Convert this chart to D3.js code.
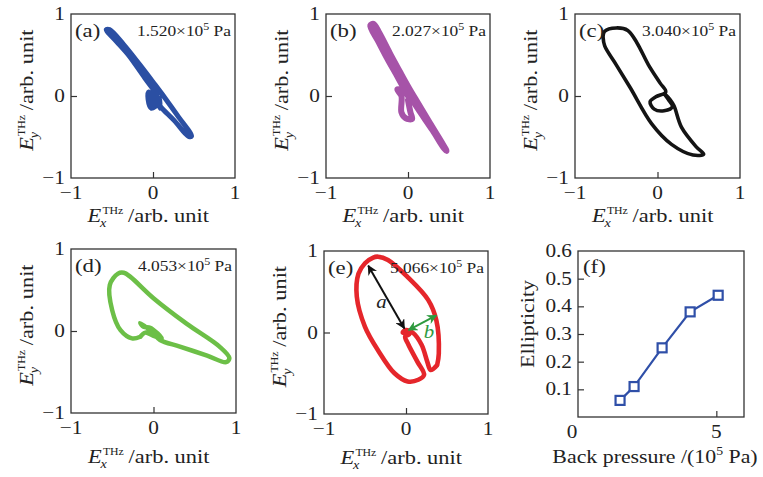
<!DOCTYPE html>
<html><head><meta charset="utf-8">
<script src="https://cdn.jsdelivr.net/npm/d3@7"></script>
<style>
html,body{margin:0;padding:0;background:#fff;}
svg{display:block;}
text{font-family:"Liberation Serif","Times New Roman",serif;fill:#222;}
</style></head>
<body>
<svg id="chart" width="763" height="477"></svg>
<script>
// ---------------- data ----------------
const panelLabels = ["(a)", "(b)", "(c)", "(d)", "(e)", "(f)"];
const pressureText = ["1.520", "2.027", "3.040", "4.053", "5.066"];
const fieldTicks = [-1, 0, 1];
const fieldTickLabels = ["\u22121", "0", "1"];

// polarization trajectories (E_x, E_y), arb. unit
const curveA = [[0.05,0.02],[-0.1,0.22],[-0.3,0.5],[-0.45,0.67],[-0.57,0.81],[-0.53,0.81],[-0.36,0.63],[-0.16,0.38],[0.0,0.17],[0.15,-0.03],[0.3,-0.24],[0.47,-0.49],[0.43,-0.49],[0.26,-0.3],[0.1,-0.14],[0.02,-0.04],[-0.05,0.05],[-0.06,-0.04],[-0.02,-0.15],[0.05,-0.1],[-0.05,-0.08],[0.07,-0.02],[0.08,-0.15],[0.02,0.05]];
const curveB = [[0.0,0.0],[-0.12,0.22],[-0.25,0.45],[-0.36,0.66],[-0.46,0.86],[-0.42,0.88],[-0.35,0.77],[-0.22,0.52],[-0.1,0.3],[0.0,0.12],[0.1,-0.05],[0.25,-0.3],[0.47,-0.67],[0.44,-0.64],[0.3,-0.42],[0.15,-0.2],[0.05,-0.05],[-0.03,0.05],[-0.13,0.08],[-0.08,0.0],[-0.08,-0.2],[-0.03,-0.27],[0.05,-0.28],[0.03,-0.2],[0.0,-0.05]];
const curveC = [[-0.66,0.72],[-0.64,0.79],[-0.5,0.83],[-0.36,0.8],[-0.25,0.65],[-0.11,0.38],[0.03,0.16],[0.1,0.05],[-0.02,-0.01],[-0.09,-0.07],[-0.04,-0.16],[0.08,-0.18],[0.18,-0.13],[0.13,-0.04],[0.08,0.03],[0.15,-0.04],[0.2,-0.12],[0.29,-0.38],[0.47,-0.62],[0.56,-0.71],[0.43,-0.72],[0.17,-0.59],[-0.07,-0.34],[-0.33,0.1],[-0.5,0.38],[-0.64,0.61],[-0.66,0.72]];
const curveD = [[-0.16,-0.07],[-0.26,-0.09],[-0.4,0.01],[-0.5,0.25],[-0.53,0.56],[-0.43,0.7],[-0.36,0.71],[-0.28,0.66],[0.0,0.4],[0.4,0.09],[0.8,-0.19],[0.92,-0.33],[0.88,-0.38],[0.65,-0.3],[0.32,-0.19],[0.08,-0.11],[0.0,-0.03],[-0.16,0.1],[-0.12,0.05],[-0.04,0.04],[0.05,-0.03],[0.1,-0.09],[0.0,-0.06],[-0.1,-0.02],[-0.16,-0.07]];
const curveE = [[0.38,-0.40],[0.3,-0.46],[0.26,-0.36],[0.19,-0.15],[0.08,0.0],[0.0,0.03],[-0.04,0.0],[0.04,-0.02],[-0.01,-0.05],[0.03,-0.15],[0.14,-0.36],[0.22,-0.52],[0.15,-0.58],[0.02,-0.6],[-0.14,-0.5],[-0.34,-0.22],[-0.5,0.07],[-0.6,0.44],[-0.58,0.72],[-0.5,0.85],[-0.4,0.92],[-0.34,0.93],[-0.22,0.89],[0.02,0.68],[0.27,0.4],[0.37,0.15],[0.4,-0.26],[0.38,-0.40]];
const arrowA = [[-0.46,0.82],[-0.02,0.05]];
const arrowB = [[0.03,0.03],[0.37,0.21]];

// ellipticity vs back pressure
const backPressure = [1.520, 2.027, 3.040, 4.053, 5.066];
const ellipticity = [0.06, 0.11, 0.25, 0.38, 0.44];
const fYTicks = [0.1, 0.2, 0.3, 0.4, 0.5, 0.6];
const fYTickLabels = ["0.1", "0.2", "0.3", "0.4", "0.5", "0.6"];
const fXTicks = [0, 5];
const fXTickLabels = ["0", "5"];

// ---------------- drawing ----------------
const svg = d3.select("#chart");
svg.append("rect").attr("width", 763).attr("height", 477).attr("fill", "#fff");

const SX = 1.15; // wide serif look
function stext(g, x, y, str, o = {}) {
  const t = g.append("text")
    .attr("transform", `translate(${x},${y}) rotate(${o.rot || 0}) scale(${o.sx || SX},1)`)
    .attr("font-size", o.size || 18.5)
    .attr("text-anchor", o.anchor || "middle")
    .text(str);
  if (o.style) t.attr("font-style", o.style);
  if (o.fill) t.style("fill", o.fill);
  return t;
}

// composite axis title: E_{sub}^{THz} /arb. unit
function fieldTitle(x, y, sub, rot, shift) {
  const g = svg.append("g").attr("transform", `translate(${x},${y}) rotate(${rot}) scale(1.18,1)`);
  const inner = g.append("g");
  const e = inner.append("text").attr("font-size", 19).attr("font-style", "italic").text("E");
  const wE = e.node().getComputedTextLength();
  const sup = inner.append("text").attr("x", wE + 1).attr("y", -8).attr("font-size", 10).text("THz");
  const wS = sup.node().getComputedTextLength();
  inner.append("text").attr("x", wE - 1).attr("y", 5).attr("font-size", 12).attr("font-style", "italic").text(sub);
  const rest = inner.append("text").attr("x", wE + wS + 5).attr("font-size", 19).text("/arb. unit");
  const total = wE + wS + 5 + rest.node().getComputedTextLength();
  inner.attr("transform", `translate(${-total / 2 + shift},0)`);
}

const frames = [
  [71, 14, 164, 164], [326, 14, 164, 164], [575, 14, 165, 164],
  [71, 249, 165, 164], [324, 251, 164, 163], [578, 251, 166, 166]
];
const curves = [curveA, curveB, curveC, curveD, curveE];
const colors = ["#2b4fa3", "#a653a8", "#141414", "#6cbf47", "#e5262b"];
const widths = [5, 6, 3.6, 4.5, 4.6];
const titleOffset = [44, 44, 44, 50, 50];

svg.append("defs").call(defs => {
  [["arrK", "#111"], ["arrG", "#2f9a3f"]].forEach(([id, c]) => {
    defs.append("marker").attr("id", id).attr("viewBox", "0 0 10 10")
      .attr("refX", 9).attr("refY", 5).attr("markerWidth", 5).attr("markerHeight", 5)
      .attr("orient", "auto-start-reverse").attr("markerUnits", "strokeWidth")
      .append("path").attr("d", "M0,0 L10,5 L0,10 L3,5 z").attr("fill", c);
  });
});

curves.forEach((data, i) => {
  const [fx, fy, fw, fh] = frames[i];
  const x = d3.scaleLinear().domain([-1, 1]).range([fx, fx + fw]);
  const y = d3.scaleLinear().domain([-1, 1]).range([fy + fh, fy]);
  const g = svg.append("g");

  const line = d3.line().x(d => x(d[0])).y(d => y(d[1])).curve(d3.curveCatmullRom.alpha(0.5));
  g.append("path").datum(data).attr("d", line).attr("fill", "none")
    .attr("stroke", colors[i]).attr("stroke-width", widths[i])
    .attr("stroke-linejoin", "round").attr("stroke-linecap", "round");

  // frame
  g.append("rect").attr("x", fx).attr("y", fy).attr("width", fw).attr("height", fh)
    .attr("fill", "none").attr("stroke", "#333").attr("stroke-width", 1.3);
  // inward ticks at 0
  g.append("g").attr("transform", `translate(0,${fy + fh})`)
    .call(d3.axisBottom(x).tickValues([0]).tickSize(-6).tickFormat(""))
    .call(a => { a.select(".domain").remove(); a.selectAll("line").attr("stroke", "#333").attr("stroke-width", 1.2); });
  g.append("g").attr("transform", `translate(${fx},0)`)
    .call(d3.axisLeft(y).tickValues([0]).tickSize(-6).tickFormat(""))
    .call(a => { a.select(".domain").remove(); a.selectAll("line").attr("stroke", "#333").attr("stroke-width", 1.2); });

  fieldTicks.forEach((v, k) => {
    stext(g, x(v), fy + fh + 20.5, fieldTickLabels[k]);
    stext(g, fx - 6, y(v) + 6, fieldTickLabels[k], { anchor: "end" });
  });

  fieldTitle(fx + fw / 2, fy + fh + titleOffset[i], "x", 0, -4);
  fieldTitle(fx - 38, fy + fh / 2, "y", -90, 5);

  stext(g, fx + 4, fy + 23, panelLabels[i], { anchor: "start", size: 19, sx: 1.2 });
  const ann = g.append("text")
    .attr("transform", `translate(${fx + fw - 4},${fy + 22}) scale(1.2,1)`)
    .attr("font-size", 14.5).attr("text-anchor", "end");
  ann.append("tspan").text(pressureText[i] + "\u00d710");
  ann.append("tspan").attr("dy", -6).attr("font-size", 10).text("5");
  ann.append("tspan").attr("dy", 6).text(" Pa");

  if (i === 4) {
    const al = d3.line().x(d => x(d[0])).y(d => y(d[1]));
    g.append("path").datum(arrowA).attr("d", al).attr("stroke", "#111").attr("stroke-width", 2)
      .attr("marker-start", "url(#arrK)").attr("marker-end", "url(#arrK)");
    g.append("path").datum(arrowB).attr("d", al).attr("stroke", "#2f9a3f").attr("stroke-width", 2)
      .attr("marker-start", "url(#arrG)").attr("marker-end", "url(#arrG)");
    stext(g, x(-0.3), y(0.3), "a", { style: "italic", size: 19, sx: 1.1 });
    stext(g, x(0.28), y(-0.07), "b", { style: "italic", size: 19, sx: 1.1, fill: "#2f9a3f" });
  }
});

// ---------- panel (f) ----------
{
  const [fx, fy, fw, fh] = frames[5];
  const x = d3.scaleLinear().domain([0, 6]).range([fx, fx + fw]);
  const y = d3.scaleLinear().domain([0, 0.6]).range([fy + fh, fy]);
  const g = svg.append("g");
  g.append("rect").attr("x", fx).attr("y", fy).attr("width", fw).attr("height", fh)
    .attr("fill", "none").attr("stroke", "#333").attr("stroke-width", 1.3);
  g.append("g").attr("transform", `translate(${fx},0)`)
    .call(d3.axisLeft(y).tickValues(fYTicks.slice(0, 5)).tickSize(-6).tickFormat(""))
    .call(a => { a.select(".domain").remove(); a.selectAll("line").attr("stroke", "#333").attr("stroke-width", 1.2); });
  g.append("g").attr("transform", `translate(0,${fy + fh})`)
    .call(d3.axisBottom(x).tickValues([5]).tickSize(-6).tickFormat(""))
    .call(a => { a.select(".domain").remove(); a.selectAll("line").attr("stroke", "#333").attr("stroke-width", 1.2); });

  fYTicks.forEach((v, k) => stext(g, fx - 6, y(v) + 6, fYTickLabels[k], { anchor: "end" }));
  fXTicks.forEach((v, k) => stext(g, x(v) - (v === 0 ? 6 : 0), fy + fh + 20.5, fXTickLabels[k]));

  const pts = backPressure.map((p, k) => [p, ellipticity[k]]);
  g.append("path").datum(pts)
    .attr("d", d3.line().x(d => x(d[0])).y(d => y(d[1])))
    .attr("fill", "none").attr("stroke", "#2f4fa8").attr("stroke-width", 2.2);
  g.selectAll("rect.m").data(pts).join("rect").attr("class", "m")
    .attr("x", d => x(d[0]) - 4.5).attr("y", d => y(d[1]) - 4.5)
    .attr("width", 9).attr("height", 9)
    .attr("fill", "#fff").attr("stroke", "#2f4fa8").attr("stroke-width", 2.2);

  stext(g, fx + 5, fy + 22, panelLabels[5], { anchor: "start", size: 19, sx: 1.2 });

  // x title
  const xt = g.append("text")
    .attr("transform", `translate(${fx + fw / 2 - 6},${fy + fh + 46}) scale(1.15,1)`)
    .attr("font-size", 19).attr("text-anchor", "middle");
  xt.append("tspan").text("Back pressure /(10");
  xt.append("tspan").attr("dy", -8).attr("font-size", 12).text("5");
  xt.append("tspan").attr("dy", 8).text(" Pa)");
  stext(g, fx - 44, fy + fh / 2 - 10, "Ellipticity", { rot: -90, size: 19, sx: 1.16 });
}
</script>
</body></html>
